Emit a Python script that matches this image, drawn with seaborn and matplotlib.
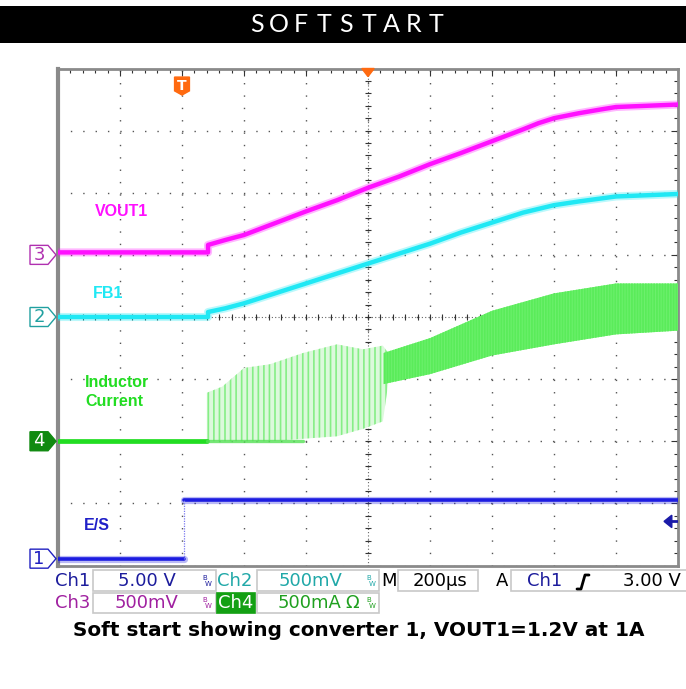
import numpy as np
import pandas as pd
import matplotlib
matplotlib.use("Agg")
import matplotlib.pyplot as plt
import matplotlib.transforms as mtrans
from matplotlib.patches import Polygon, Rectangle
from matplotlib.lines import Line2D
from matplotlib.ticker import MultipleLocator
import seaborn as sns

W, H = 686, 689

# ------------------------------------------------------------------ #
# Scope settings (units per division, offset in divisions)
# ------------------------------------------------------------------ #
TIME_PER_DIV = 200          # µs
T_START, T_END = -400, 1600  # µs, trigger at t=0
SCALE_VOUT, OFFSET_VOUT = 0.5, 1.0
SCALE_FB, OFFSET_FB = 0.5, 0.0
SCALE_IL, OFFSET_IL = 0.5, -2.0
SCALE_ES, OFFSET_ES = 5.0, -3.89
TRIG_LEVEL = 3.0            # V on Ch1

# ------------------------------------------------------------------ #
# Traces
# ------------------------------------------------------------------ #
t_vout = [-400, 84, 84, 140, 200, 300, 400, 500, 600, 700, 800, 900, 1000,
          1100, 1150, 1200, 1280, 1350, 1400, 1500, 1600]
v_vout = [0.02, 0.02, 0.08, 0.12, 0.16, 0.255, 0.35, 0.44, 0.54, 0.63, 0.73, 0.82, 0.915,
          1.01, 1.06, 1.10, 1.14, 1.17, 1.19, 1.20, 1.21]

t_fb = [-400, 84, 84, 140, 200, 300, 400, 500, 600, 700, 800, 900, 1000,
        1100, 1200, 1280, 1400, 1500, 1600]
v_fb = [0.0, 0.0, 0.04, 0.07, 0.11, 0.19, 0.27, 0.35, 0.43, 0.51, 0.59, 0.68, 0.76,
        0.84, 0.90, 0.93, 0.97, 0.98, 0.99]

t_es_low = [-400, 5]
v_es_low = [0.0, 0.0]
t_es_high = [5, 1600]
v_es_high = [4.7, 4.7]

t_il_base = [-400, 80]
i_il_base = [0.0, 0.0]

# discontinuous (spiky) part of the inductor current
t_il_spk = [80, 130, 200, 284, 390, 500, 584, 648, 665]
i_spk_hi = [0.39, 0.44, 0.59, 0.62, 0.71, 0.78, 0.74, 0.77, 0.71]
i_spk_lo = [0.0, 0.0, 0.0, 0.0, 0.02, 0.04, 0.10, 0.16, 0.46]

# continuous part: ripple envelope
t_il = [650, 800, 1000, 1200, 1400, 1600]
i_il_hi = [0.71, 0.83, 1.05, 1.19, 1.27, 1.27]
i_il_lo = [0.46, 0.54, 0.69, 0.78, 0.86, 0.89]

C_VOUT = "#ff10ff"
C_FB = "#20e8f4"
C_IL = "#30e830"
C_IL_LIGHT = "#86ee86"
C_ES = "#1c1ce0"


def to_div(values, scale, offset):
    return np.asarray(values) / scale + offset


def fx(x):
    return x / W


def fy(y):
    return 1 - y / H


def trace(t, div, color, lw):
    # faint halo imitates the scope noise band, solid core on top
    sns.lineplot(x=t, y=div, color=color, lw=lw + 2.6, alpha=0.3, ax=ax,
                 estimator=None, sort=False, zorder=5)
    sns.lineplot(x=t, y=div, color=color, lw=lw, ax=ax,
                 estimator=None, sort=False, zorder=5)


sns.set_style("white")
plt.rcParams["font.family"] = ["DejaVu Sans"]
plt.rcParams["hatch.linewidth"] = 1.2

fig = plt.figure(figsize=(W / 100, H / 100), dpi=100)
ax = fig.add_axes([fx(58), fy(565.5), 620 / W, 497 / H])
ax.set_xlim(T_START, T_END)
ax.set_ylim(-4, 4)

# graticule
ax.set_xticks(np.arange(T_START, T_END + 1, TIME_PER_DIV))
ax.set_yticks(np.arange(-4, 5, 1))
ax.xaxis.set_minor_locator(MultipleLocator(TIME_PER_DIV / 5))
ax.yaxis.set_minor_locator(MultipleLocator(0.2))
ax.grid(True, which="major", color="#555555", linestyle=(0, (1.0, 7.9)), linewidth=1.0)
ax.tick_params(which="both", direction="in", top=True, right=True,
               labelbottom=False, labelleft=False, color="#333333", width=0.8)
ax.tick_params(which="major", length=5)
ax.tick_params(which="minor", length=3)
for s in ax.spines.values():
    s.set_color("#8a8a8a")
    s.set_linewidth(2)
ax.spines["left"].set_linewidth(3)
ax.axhline(0, color="#666666", lw=0.8, ls=(0, (1, 2)), zorder=1)
ax.axvline(600, color="#666666", lw=0.8, ls=(0, (1, 2)), zorder=1)
cx = np.arange(T_START, T_END + 1, TIME_PER_DIV / 5)
ax.plot(cx, np.zeros_like(cx), ls="none", marker="|", ms=5, mew=0.8, color="#333333", zorder=1)
cy = np.arange(-4, 4.01, 0.2)
ax.plot(np.full_like(cy, 600), cy, ls="none", marker="_", ms=5, mew=0.8, color="#333333", zorder=1)
ax.set_axisbelow(True)

# inductor current
ax.fill_between(t_il_spk, to_div(i_spk_lo, SCALE_IL, OFFSET_IL), to_div(i_spk_hi, SCALE_IL, OFFSET_IL),
                facecolor="#dcf9dc", edgecolor=C_IL_LIGHT, hatch="|||", lw=0, zorder=3)
ax.fill_between(t_il, to_div(i_il_lo, SCALE_IL, OFFSET_IL), to_div(i_il_hi, SCALE_IL, OFFSET_IL),
                facecolor="#6cf06c", edgecolor="#5aec5a", hatch="||||||", lw=0, zorder=3)
sns.lineplot(x=t_il_base, y=to_div(i_il_base, SCALE_IL, OFFSET_IL), color="#22dd22",
             lw=3.4, ax=ax, estimator=None, sort=False, zorder=4)
sns.lineplot(x=[80, 390], y=to_div([0.0, 0.0], SCALE_IL, OFFSET_IL), color="#55e055",
             lw=2.4, alpha=0.8, ax=ax, estimator=None, sort=False, zorder=4)

# VOUT1 / FB1
df_vout = pd.DataFrame({"t": t_vout, "div": to_div(v_vout, SCALE_VOUT, OFFSET_VOUT)})
df_fb = pd.DataFrame({"t": t_fb, "div": to_div(v_fb, SCALE_FB, OFFSET_FB)})
trace(df_vout["t"], df_vout["div"], C_VOUT, 3.2)
trace(df_fb["t"], df_fb["div"], C_FB, 3.2)

# E/S
trace(t_es_low, to_div(v_es_low, SCALE_ES, OFFSET_ES), C_ES, 2.6)
trace(t_es_high, to_div(v_es_high, SCALE_ES, OFFSET_ES), C_ES, 2.6)
ax.vlines(t_es_low[-1], to_div(v_es_low[-1], SCALE_ES, OFFSET_ES),
          to_div(v_es_high[0], SCALE_ES, OFFSET_ES), color="#7a7af0", lw=0.9,
          ls=(0, (1, 1)), zorder=5)
ax.set_xlabel("")
ax.set_ylabel("")

# trigger markers
ax.add_patch(Polygon([(-24, 3.862), (24, 3.862), (24, 3.64), (0, 3.573), (-24, 3.64)],
                     closed=True, fc="#ff6a10", ec="#ff6a10", clip_on=False, zorder=6))
ax.text(0, 3.72, "T", color="white", fontsize=10, fontweight="bold",
        ha="center", va="center", zorder=7)
ax.add_patch(Polygon([(580, 4.0), (620, 4.0), (600, 3.87)], closed=True,
                     fc="#ff6a10", ec="#ff6a10", clip_on=False, zorder=6))
y_trig = TRIG_LEVEL / SCALE_ES + OFFSET_ES
ax.add_patch(Polygon([(1555, y_trig), (1580, y_trig + 0.1), (1580, y_trig - 0.1)],
                     closed=True, fc="#1a1aa8", ec="#1a1aa8", zorder=6))
ax.plot([1578, 1598], [y_trig, y_trig], color="#1a1aa8", lw=2, zorder=6)

# channel ground markers on the left
blend = mtrans.blended_transform_factory(fig.transFigure, ax.transData)
hd = 9.5 / 62.1
markers = [("3", OFFSET_VOUT, "#b030b0", False),
           ("2", OFFSET_FB, "#20a0a0", False),
           ("4", OFFSET_IL, "#108a10", True),
           ("1", OFFSET_ES, "#2020c0", False)]
for label, off, col, filled in markers:
    pts = [(fx(30), off + hd), (fx(48), off + hd), (fx(56), off),
           (fx(48), off - hd), (fx(30), off - hd)]
    fig.add_artist(Polygon(pts, closed=True, transform=blend, lw=1.0,
                           ec=col, fc=col if filled else "white"))
    fig.text(fx(39), off, label, transform=blend, fontsize=13,
             color="white" if filled else col, ha="center", va="center")

# trace labels
LBL_FONT = ["Liberation Sans", "DejaVu Sans"]
fig.text(fx(95), fy(212), "VOUT1", color=C_VOUT, fontsize=11.5, fontweight="bold",
         family=LBL_FONT, va="center")
fig.text(fx(93), fy(293), "FB1", color=C_FB, fontsize=11.5, fontweight="bold",
         family=LBL_FONT, va="center")
fig.text(fx(85), fy(392), "Inductor\nCurrent", color="#22dd22", fontsize=11.5,
         fontweight="bold", family=LBL_FONT, va="center", linespacing=1.3)
fig.text(fx(84), fy(525), "E/S", color="#2020c8", fontsize=11.5, fontweight="bold",
         family=LBL_FONT, va="center")

# header band
fig.add_artist(Rectangle((0, fy(43)), 1, 37 / H, transform=fig.transFigure,
                         fc="black", ec="none"))
for k, ch in enumerate("SOFTSTART"):
    fig.text(fx(256.5 + 22.4 * k), fy(24.5), ch, color="white", fontsize=18,
             family=["Lato", "DejaVu Sans"], fontweight="normal",
             ha="center", va="center")

# status bar
BOX_EC = "#c8c8c8"


def box(x0, x1, y0, y1, fc="white", ec=BOX_EC):
    fig.add_artist(Rectangle((fx(x0), fy(y1)), (x1 - x0) / W, (y1 - y0) / H,
                             transform=fig.transFigure, fc=fc, ec=ec, lw=1.2))


def stxt(x, y, s, col, ha="left", size=13):
    fig.text(fx(x), fy(y), s, color=col, fontsize=size, ha=ha, va="center")


def bw(x, y, col):
    fig.text(fx(x), fy(y - 3), "B", color=col, fontsize=5, ha="left", va="center")
    fig.text(fx(x + 3), fy(y + 3), "W", color=col, fontsize=5, ha="left", va="center")


R1, R2 = 580.5, 603
C1, C2, C3, C4 = "#1c1c9c", "#20a8a8", "#a020a0", "#20a020"
box(93, 216, 570, 591)
box(257, 379, 570, 591)
box(398, 478, 570, 591)
box(511, 690, 570, 591)
box(93, 216, 593, 613)
box(257, 379, 593, 613)
box(217, 255, 593, 613, fc="#13a013", ec="#13a013")

stxt(55, R1, "Ch1", C1)
stxt(147, R1, "5.00 V", C1, ha="center")
bw(202, R1, C1)
stxt(217, R1, "Ch2", C2)
stxt(311, R1, "500mV", C2, ha="center")
bw(366, R1, C2)
stxt(381, R1, "M", "black")
stxt(440, R1, "200\u00b5s", "black", ha="center")
stxt(496, R1, "A", "black")
stxt(527, R1, "Ch1", C1)
fig.add_artist(Line2D([fx(577), fx(581), fx(585), fx(589)],
                      [fy(589), fy(589), fy(575), fy(575)],
                      transform=fig.transFigure, color="black", lw=2))
stxt(681, R1, "3.00 V", "black", ha="right")

stxt(55, R2, "Ch3", C3)
stxt(147, R2, "500mV", C3, ha="center")
bw(202, R2, C3)
stxt(236, R2, "Ch4", "white", ha="center")
stxt(278, R2, "500mA", C4)
stxt(345, R2, "\u03a9", C4)
bw(366, R2, C4)

# caption
fig.text(fx(358.5), fy(631), "Soft start showing converter 1, VOUT1=1.2V at 1A",
         fontsize=14.4, fontweight="bold", family=["DejaVu Sans"],
         ha="center", va="center", color="black")

fig.savefig("out.png", dpi=100)
